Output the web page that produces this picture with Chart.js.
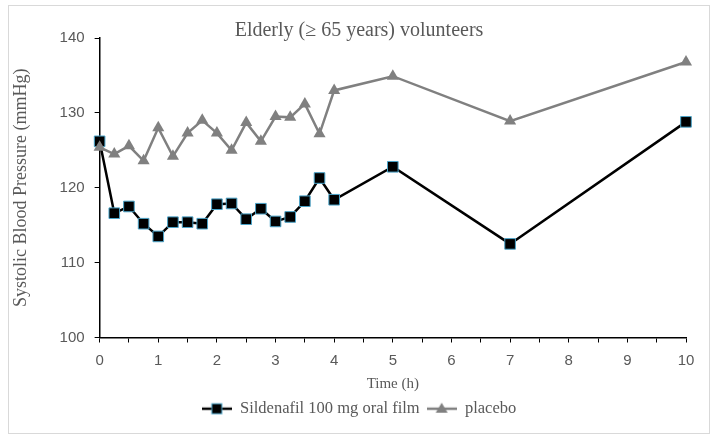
<!DOCTYPE html>
<html lang="en">
<head>
  <meta charset="UTF-8">
  <title>Elderly volunteers - Systolic Blood Pressure</title>
  <script src="https://cdn.jsdelivr.net/npm/chart.js"></script>
  <style>
    html, body { margin: 0; padding: 0; background: #fff; }
    .quadro {
      position: relative;
      width: 718px;
      height: 438px;
    }
    .moldura {
      position: absolute;
      left: 8px; top: 5px;
      width: 700px; height: 427px;
      border: 1px solid #d9d9d9;
      pointer-events: none;
    }
  </style>
</head>
<body>
  <div class="quadro">
    <canvas id="grafico" width="718" height="438"></canvas>
    <div class="moldura"></div>
  </div>

  <script>
    // horas de coleta
    const tempos = [0, 0.25, 0.5, 0.75, 1, 1.25, 1.5, 1.75, 2, 2.25, 2.5, 2.75, 3, 3.25, 3.5, 3.75, 4, 5, 7, 10];
    const sildenafil = [126.2, 116.6, 117.5, 115.2, 113.5, 115.4, 115.4, 115.2, 117.8, 117.9, 115.8, 117.2, 115.5, 116.1, 118.2, 121.3, 118.4, 122.8, 112.5, 128.8];
    const placebo = [125.4, 124.5, 125.6, 123.6, 128.0, 124.2, 127.3, 129.0, 127.3, 125.0, 128.7, 126.2, 129.5, 129.4, 131.2, 127.2, 133.0, 134.9, 128.9, 136.8];
    const nomes = ['Sildenafil 100 mg oral film', 'placebo'];

    const serif = "'Liberation Serif', 'Times New Roman', serif";
    const sans = "'Liberation Sans', Arial, sans-serif";

    function pares(ys) {
      return tempos.map((t, i) => ({ x: t, y: ys[i] }));
    }

    // icone da legenda: linha com marcador
    function icone(cor, borda, forma) {
      const c = document.createElement('canvas');
      c.width = 30; c.height = 14;
      const g = c.getContext('2d');
      g.strokeStyle = cor;
      g.lineWidth = 2.5;
      g.beginPath(); g.moveTo(0, 7); g.lineTo(30, 7); g.stroke();
      g.fillStyle = cor;
      if (forma === 'rect') {
        g.fillRect(10, 2, 10, 10);
        g.strokeStyle = borda; g.lineWidth = 1;
        g.strokeRect(10, 2, 10, 10);
      } else {
        g.beginPath(); g.moveTo(15, 1); g.lineTo(21, 11); g.lineTo(9, 11); g.closePath(); g.fill();
      }
      return c;
    }
    const icones = [icone('#000000', '#4aa3c8', 'rect'), icone('#808080', '#808080', 'tri')];

    const ctx = document.getElementById('grafico').getContext('2d');
    new Chart(ctx, {
      type: 'line',
      data: {
        datasets: [{
          label: nomes[1],
          data: pares(placebo),
          borderColor: '#808080',
          borderWidth: 2.5,
          pointStyle: 'triangle',
          pointRadius: 7,
          pointBackgroundColor: '#808080',
          pointBorderColor: '#808080',
          pointBorderWidth: 0,
          tension: 0,
          clip: false
        }, {
          label: nomes[0],
          data: pares(sildenafil),
          borderColor: '#000000',
          borderWidth: 2.5,
          pointStyle: 'rect',
          pointRadius: 7.5,
          pointBackgroundColor: '#000000',
          pointBorderColor: '#4aa3c8',
          pointBorderWidth: 1,
          tension: 0,
          clip: false
        }]
      },
      options: {
        responsive: false,
        animation: false,
        layout: { padding: { left: 21, right: 21, top: 8, bottom: 11 } },
        plugins: {
          title: {
            display: true,
            text: 'Elderly (\u2265 65 years) volunteers',
            color: '#595959',
            font: { family: serif, size: 20, weight: 'normal' },
            padding: { top: 11, bottom: -5 }
          },
          legend: {
            position: 'bottom',
            reverse: true,
            labels: {
              usePointStyle: true,
              pointStyleWidth: 30,
              color: '#595959',
              font: { family: serif, size: 16.5 },
              padding: 7,
              generateLabels: function(chart) {
                const itens = Chart.defaults.plugins.legend.labels.generateLabels(chart);
                itens.forEach(it => {
                  it.pointStyle = icones[nomes.indexOf(it.text)];
                });
                return itens;
              }
            }
          },
          tooltip: { enabled: false }
        },
        scales: {
          x: {
            type: 'linear',
            min: 0, max: 10,
            border: { color: '#000000', width: 1.5 },
            grid: { drawOnChartArea: false, color: '#000000', tickLength: 5, lineWidth: 1 },
            ticks: {
              stepSize: 0.5,
              color: '#595959',
              font: { family: sans, size: 15 },
              padding: 9,
              maxRotation: 0,
              autoSkip: false,
              callback: v => Number.isInteger(v) ? v : ''
            },
            title: {
              display: true,
              text: 'Time (h)',
              color: '#595959',
              font: { family: serif, size: 15 },
              padding: { top: -3, bottom: 0 }
            }
          },
          y: {
            min: 100, max: 140,
            border: { color: '#000000', width: 1.5 },
            grid: { drawOnChartArea: false, color: '#000000', tickLength: 5, lineWidth: 1 },
            ticks: {
              stepSize: 10,
              color: '#595959',
              font: { family: sans, size: 15 },
              padding: 10
            },
            title: {
              display: true,
              text: 'Systolic Blood Pressure (mmHg)',
              color: '#595959',
              font: { family: serif, size: 18 },
              padding: { top: -11, bottom: 18 }
            }
          },
          // eixo vazio so para reservar margem a direita
          y2: {
            position: 'right',
            display: true,
            grid: { display: false },
            border: { display: false },
            ticks: { display: false },
            afterFit: s => { s.width = 11; }
          }
        }
      }
    });
  </script>
</body>
</html>
